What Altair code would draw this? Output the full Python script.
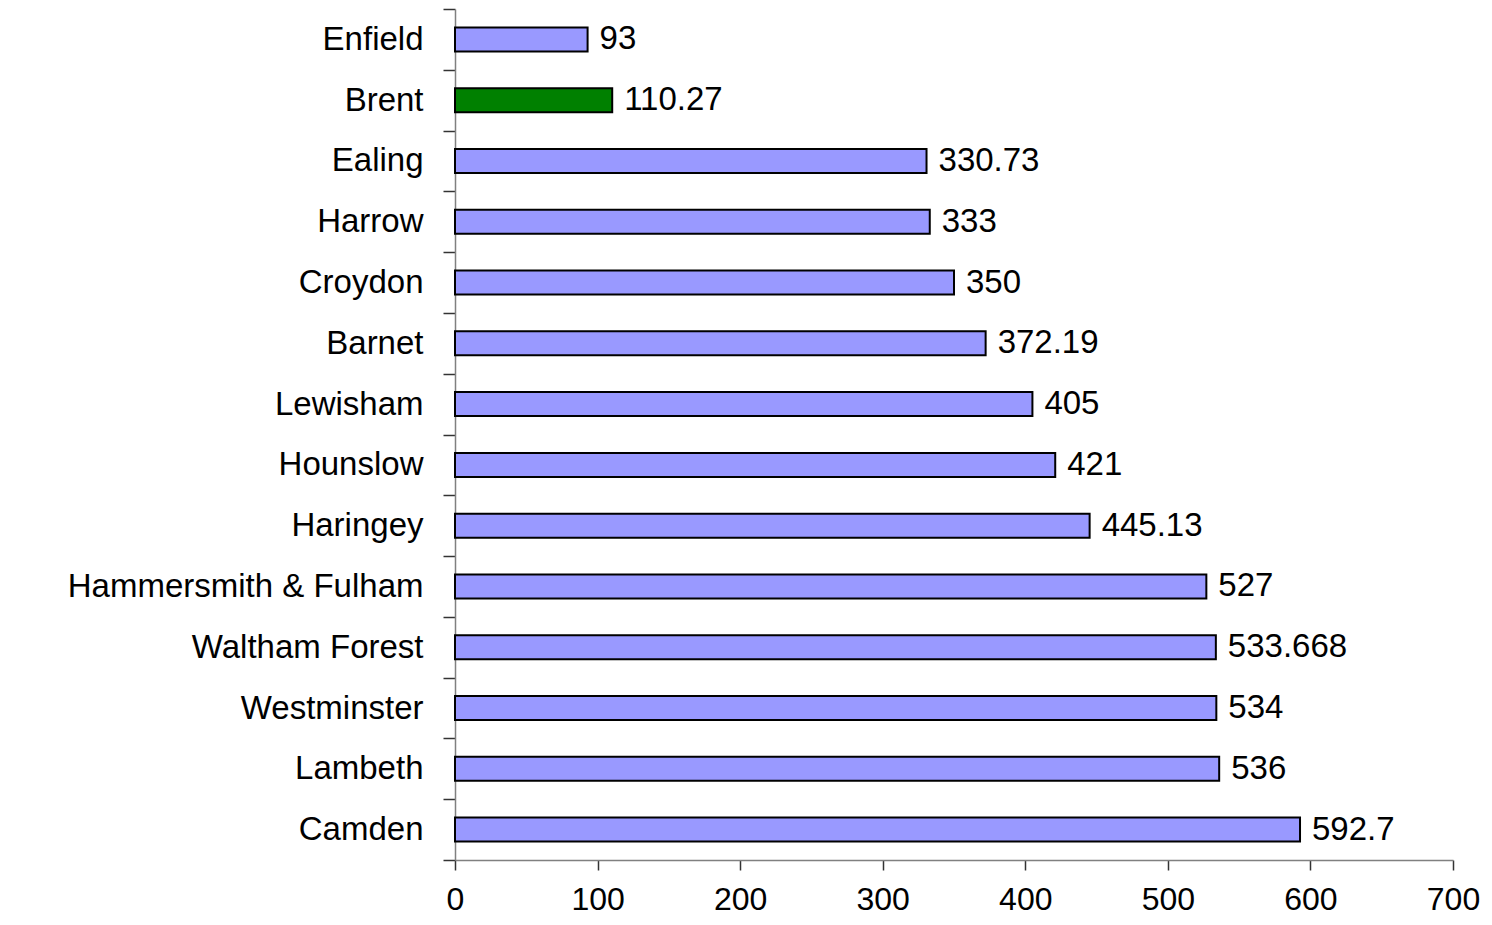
import altair as alt
import pandas as pd

boroughs = ["Enfield", "Brent", "Ealing", "Harrow", "Croydon", "Barnet", "Lewisham",
            "Hounslow", "Haringey", "Hammersmith & Fulham", "Waltham Forest",
            "Westminster", "Lambeth", "Camden"]
values = [93, 110.27, 330.73, 333, 350, 372.19, 405, 421, 445.13, 527, 533.668, 534, 536, 592.7]
labels = ["93", "110.27", "330.73", "333", "350", "372.19", "405", "421", "445.13",
          "527", "533.668", "534", "536", "592.7"]
highlight = ["no", "yes", "no", "no", "no", "no", "no", "no", "no", "no", "no", "no", "no", "no"]

df = pd.DataFrame({"borough": boroughs, "value": values, "label": labels, "hl": highlight})

FONT = "Liberation Sans"

y = alt.Y("borough:N", sort=boroughs, title=None,
          scale=alt.Scale(paddingInner=0, paddingOuter=0),
          axis=alt.Axis(tickBand="extent", domainColor="#808080", domainWidth=1.5,
                        tickColor="#333333", tickWidth=1.5, tickSize=12,
                        labelFont=FONT, labelFontSize=33, labelColor="#000000",
                        labelPadding=20, labelLimit=0))
x = alt.X("value:Q", title=None,
          scale=alt.Scale(domain=[0, 700], nice=False, zero=True),
          axis=alt.Axis(values=[0, 100, 200, 300, 400, 500, 600, 700], grid=False,
                        domainColor="#808080", domainWidth=1.5,
                        tickColor="#333333", tickWidth=1.5, tickSize=10,
                        labelFont=FONT, labelFontSize=32, labelColor="#000000",
                        labelPadding=14, labelFlush=False))

bars = alt.Chart(df).mark_bar(size=24, stroke="#000000", strokeWidth=2).encode(
    x=x, y=y,
    color=alt.Color("hl:N", scale=alt.Scale(domain=["no", "yes"], range=["#9999FF", "#008000"]),
                    legend=None),
)

text = alt.Chart(df).mark_text(align="left", baseline="middle", dx=12, font=FONT,
                               fontSize=33, color="#000000").encode(
    x=alt.X("value:Q"), y=alt.Y("borough:N", sort=boroughs), text="label:N")

chart = alt.layer(bars, text).properties(
    width=998, height=851,
    autosize=alt.AutoSizeParams(type="none"),
    padding={"left": 447, "top": 1, "right": 28, "bottom": 57},
).configure_view(stroke=None).configure_axis(grid=False)

chart.save("out.html", embed_options={"renderer": "svg", "actions": False})
